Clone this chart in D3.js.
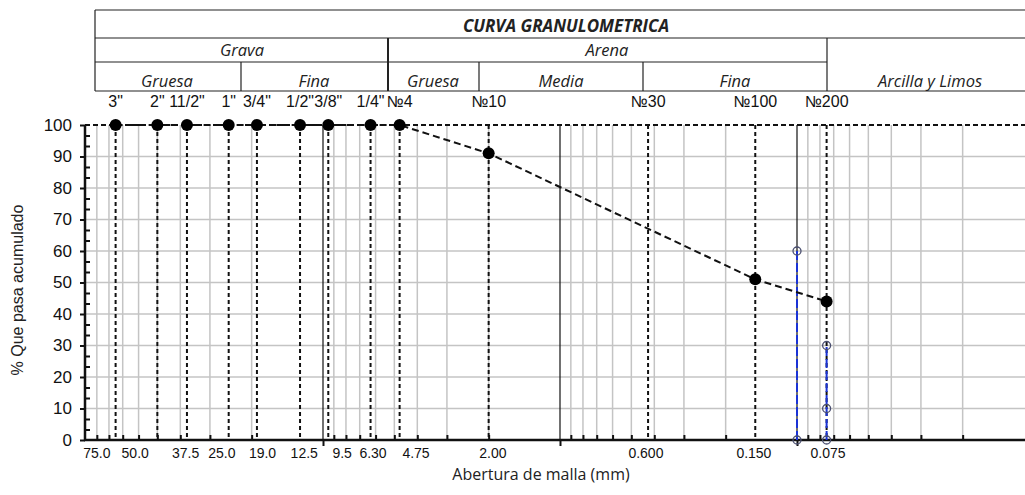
<!DOCTYPE html>
<html>
<head>
<meta charset="utf-8">
<script src="https://cdn.jsdelivr.net/npm/d3@7"></script>
<style>
    body { margin: 0; background: #fff; }
    svg { display: block; }
    .grid line { stroke: #c4c4c4; stroke-width: 1.5; }
    .hdr line { stroke: #222; stroke-width: 1.2; }
    .hdr text { font-family: "Open Sans", sans-serif; font-style: italic; font-size: 16.5px; fill: #222; }
</style>
</head>
<body>
<svg id="chart" width="1025" height="495"></svg>
<script>
// sieve openings (mm) where the guide lines sit, with their names
var sieveNames = ['3"', '2"', '11/2"', '1"', '3/4"', '1/2"', '3/8"', '1/4"', '№4', '№10', '№30', '№100', '№200'];
var sieveOpenings = [75, 50, 37.5, 25, 19, 12.5, 9.5, 6.3, 4.75, 2.0, 0.425, 0.15, 0.075];

// bottom labels and where they are anchored (mm)
var openingLabels = ['75.0', '50.0', '37.5', '25.0', '19.0', '12.5', '9.5', '6.30', '4.75', '2.00', '0.600', '0.150', '0.075'];
var openingLabelAt = [90, 62, 38, 26.7, 18, 12, 8.3, 6.15, 4.05, 1.92, 0.434, 0.152, 0.074];

// grading curve
var curveSizes = [75, 50, 37.5, 25, 19, 12.5, 9.5, 6.3, 4.75, 2.0, 0.15, 0.075];
var curvePassing = [100, 100, 100, 100, 100, 100, 100, 100, 100, 91, 51, 44];

// blue marker lines
var markSizes = [0.1, 0.075];
var markLevels = [[0, 60], [0, 10, 30]];

var yTicks = [0, 10, 20, 30, 40, 50, 60, 70, 80, 90, 100];

var svg = d3.select('#chart');

var xScale = d3.scaleLog().domain([100, 0.01]).range([86, 1034]);
var yScale = d3.scaleLinear().domain([0, 100]).range([440, 125]);
var axisX = 85;

// minor log positions (2..9 in each decade) and decades
var minors = [], decades = [10, 1, 0.1];
[10, 1, 0.1, 0.01].forEach(function(base) {
    for (var k = 2; k <= 9; k++) minors.push(base * k);
});

// ---- grid ----
var grid = svg.append('g').attr('class', 'grid');
grid.selectAll('.gh')
    .data(yTicks.filter(function(d) { return d > 0 && d < 100; }))
    .enter().append('line')
    .attr('x1', axisX).attr('x2', 1025)
    .attr('y1', function(d) { return yScale(d); })
    .attr('y2', function(d) { return yScale(d); });

grid.selectAll('.gv')
    .data(minors)
    .enter().append('line')
    .attr('x1', function(d) { return xScale(d); })
    .attr('x2', function(d) { return xScale(d); })
    .attr('y1', yScale(100)).attr('y2', yScale(0));

svg.append('g').selectAll('line')
    .data(decades)
    .enter().append('line')
    .attr('x1', function(d) { return xScale(d); })
    .attr('x2', function(d) { return xScale(d); })
    .attr('y1', yScale(100)).attr('y2', yScale(0))
    .style('stroke', '#111').style('stroke-width', 1.2);

// dashed guides for each sieve
svg.append('g').selectAll('line')
    .data(sieveOpenings)
    .enter().append('line')
    .attr('x1', function(d) { return xScale(d); })
    .attr('x2', function(d) { return xScale(d); })
    .attr('y1', yScale(100)).attr('y2', yScale(0))
    .style('stroke', '#111').style('stroke-width', 2)
    .style('stroke-dasharray', '4,3');

// dashed top line
svg.append('line')
    .attr('x1', axisX).attr('x2', 1025)
    .attr('y1', yScale(100)).attr('y2', yScale(100))
    .style('stroke', '#111').style('stroke-width', 2)
    .style('stroke-dasharray', '5,3');

// ---- axes ----
var yAxis = d3.axisLeft(yScale).tickValues(yTicks).tickSize(5).tickPadding(8);
var yG = svg.append('g').attr('transform', 'translate(' + axisX + ',0)').call(yAxis);
yG.selectAll('text').style('font-family', 'Liberation Sans, Arial, sans-serif')
    .style('font-size', '17px').style('fill', '#111');

var yMinor = d3.range(0, 100, 10).reduce(function(a, v) {
    return a.concat([v + 10 / 3, v + 20 / 3]);
}, []);
var yG2 = svg.append('g').attr('transform', 'translate(' + axisX + ',0)')
    .call(d3.axisRight(yScale).tickValues(yMinor).tickSize(5).tickFormat(''));

var xG = svg.append('g').attr('transform', 'translate(0,440)')
    .call(d3.axisBottom(xScale).tickValues(decades).tickSize(6).tickFormat(''));
var xG2 = svg.append('g').attr('transform', 'translate(0,440)')
    .call(d3.axisTop(xScale).tickValues(minors).tickSize(5).tickFormat(''));

[yG, yG2, xG, xG2].forEach(function(g) {
    g.select('.domain').remove();
    g.selectAll('line').style('stroke', '#111').style('stroke-width', 2);
});

svg.append('line').attr('x1', axisX).attr('x2', axisX)
    .attr('y1', yScale(100)).attr('y2', yScale(0) + 1)
    .style('stroke', '#111').style('stroke-width', 2.5);
svg.append('line').attr('x1', axisX - 1).attr('x2', 1025)
    .attr('y1', yScale(0)).attr('y2', yScale(0))
    .style('stroke', '#111').style('stroke-width', 2.5);

// bottom opening labels
svg.append('g').selectAll('text')
    .data(openingLabels)
    .enter().append('text')
    .attr('x', function(d, i) { return xScale(openingLabelAt[i]); })
    .attr('y', 458)
    .attr('text-anchor', 'middle')
    .style('font-family', 'Liberation Sans, Arial, sans-serif')
    .style('font-size', '14px').style('fill', '#111')
    .text(function(d) { return d; });

// sieve names above the plot
svg.append('g').selectAll('text')
    .data(sieveNames)
    .enter().append('text')
    .attr('x', function(d, i) { return xScale(sieveOpenings[i]); })
    .attr('y', 107)
    .attr('text-anchor', 'middle')
    .style('font-family', 'Liberation Sans, Arial, sans-serif')
    .style('font-size', '16px').style('fill', '#111')
    .text(function(d) { return d; });

// axis titles
svg.append('text')
    .attr('transform', 'translate(23,290) rotate(-90)')
    .attr('text-anchor', 'middle')
    .style('font-family', 'Liberation Sans, Arial, sans-serif')
    .style('font-size', '16px').style('fill', '#222')
    .text('% Que pasa acumulado');

svg.append('text')
    .attr('x', 541).attr('y', 480)
    .attr('text-anchor', 'middle')
    .style('font-family', 'Open Sans, sans-serif')
    .style('font-size', '16px').style('fill', '#222')
    .text('Abertura de malla (mm)');

// ---- blue marker lines ----
markSizes.forEach(function(s, i) {
    svg.append('line')
        .attr('x1', xScale(s)).attr('x2', xScale(s))
        .attr('y1', yScale(d3.min(markLevels[i]))).attr('y2', yScale(d3.max(markLevels[i])))
        .style('stroke', '#1a33d6').style('stroke-width', 2)
        .style('stroke-dasharray', '9,3');
    svg.append('g').selectAll('circle')
        .data(markLevels[i])
        .enter().append('circle')
        .attr('cx', xScale(s))
        .attr('cy', function(d) { return yScale(d); })
        .attr('r', 4)
        .style('fill', 'none').style('stroke', '#4a4f70').style('stroke-width', 1.3);
});

// ---- grading curve ----
var curve = curveSizes.map(function(s, i) { return [s, curvePassing[i]]; });
var line = d3.line()
    .x(function(d) { return xScale(d[0]); })
    .y(function(d) { return yScale(d[1]); });

svg.append('path')
    .datum(curve)
    .attr('d', line)
    .style('fill', 'none').style('stroke', '#111').style('stroke-width', 2)
    .style('stroke-dasharray', '7,4');

svg.append('g').selectAll('circle')
    .data(curve)
    .enter().append('circle')
    .attr('cx', function(d) { return xScale(d[0]); })
    .attr('cy', function(d) { return yScale(d[1]); })
    .attr('r', 6)
    .style('fill', '#000');

// ---- header table ----
var hdr = svg.append('g').attr('class', 'hdr');
var hLines = [
    [95, 10, 1025, 10], [95, 38, 1025, 38], [95, 62, 827, 62], [95, 91, 1025, 91],
    [95, 10, 95, 91], [388, 38, 388, 91], [241, 62, 241, 91], [479, 62, 479, 91],
    [643, 62, 643, 91], [827, 38, 827, 91]
];
hdr.selectAll('line')
    .data(hLines)
    .enter().append('line')
    .attr('x1', function(d) { return d[0]; })
    .attr('y1', function(d) { return d[1]; })
    .attr('x2', function(d) { return d[2]; })
    .attr('y2', function(d) { return d[3]; });
hdr.select('line:nth-child(6)').style('stroke-width', 2);

var hTexts = [
    ['Grava', 242, 56], ['Arena', 607, 56],
    ['Gruesa', 167, 87], ['Fina', 314, 87], ['Gruesa', 433, 87],
    ['Media', 561, 87], ['Fina', 735, 87], ['Arcilla y Limos', 930, 87]
];
hdr.selectAll('text')
    .data(hTexts)
    .enter().append('text')
    .attr('x', function(d) { return d[1]; })
    .attr('y', function(d) { return d[2]; })
    .attr('text-anchor', 'middle')
    .text(function(d) { return d[0]; });

hdr.append('text')
    .attr('x', 566).attr('y', 32)
    .attr('text-anchor', 'middle')
    .style('font-weight', 'bold').style('font-size', '17px')
    .text('CURVA GRANULOMETRICA');
</script>
</body>
</html>
